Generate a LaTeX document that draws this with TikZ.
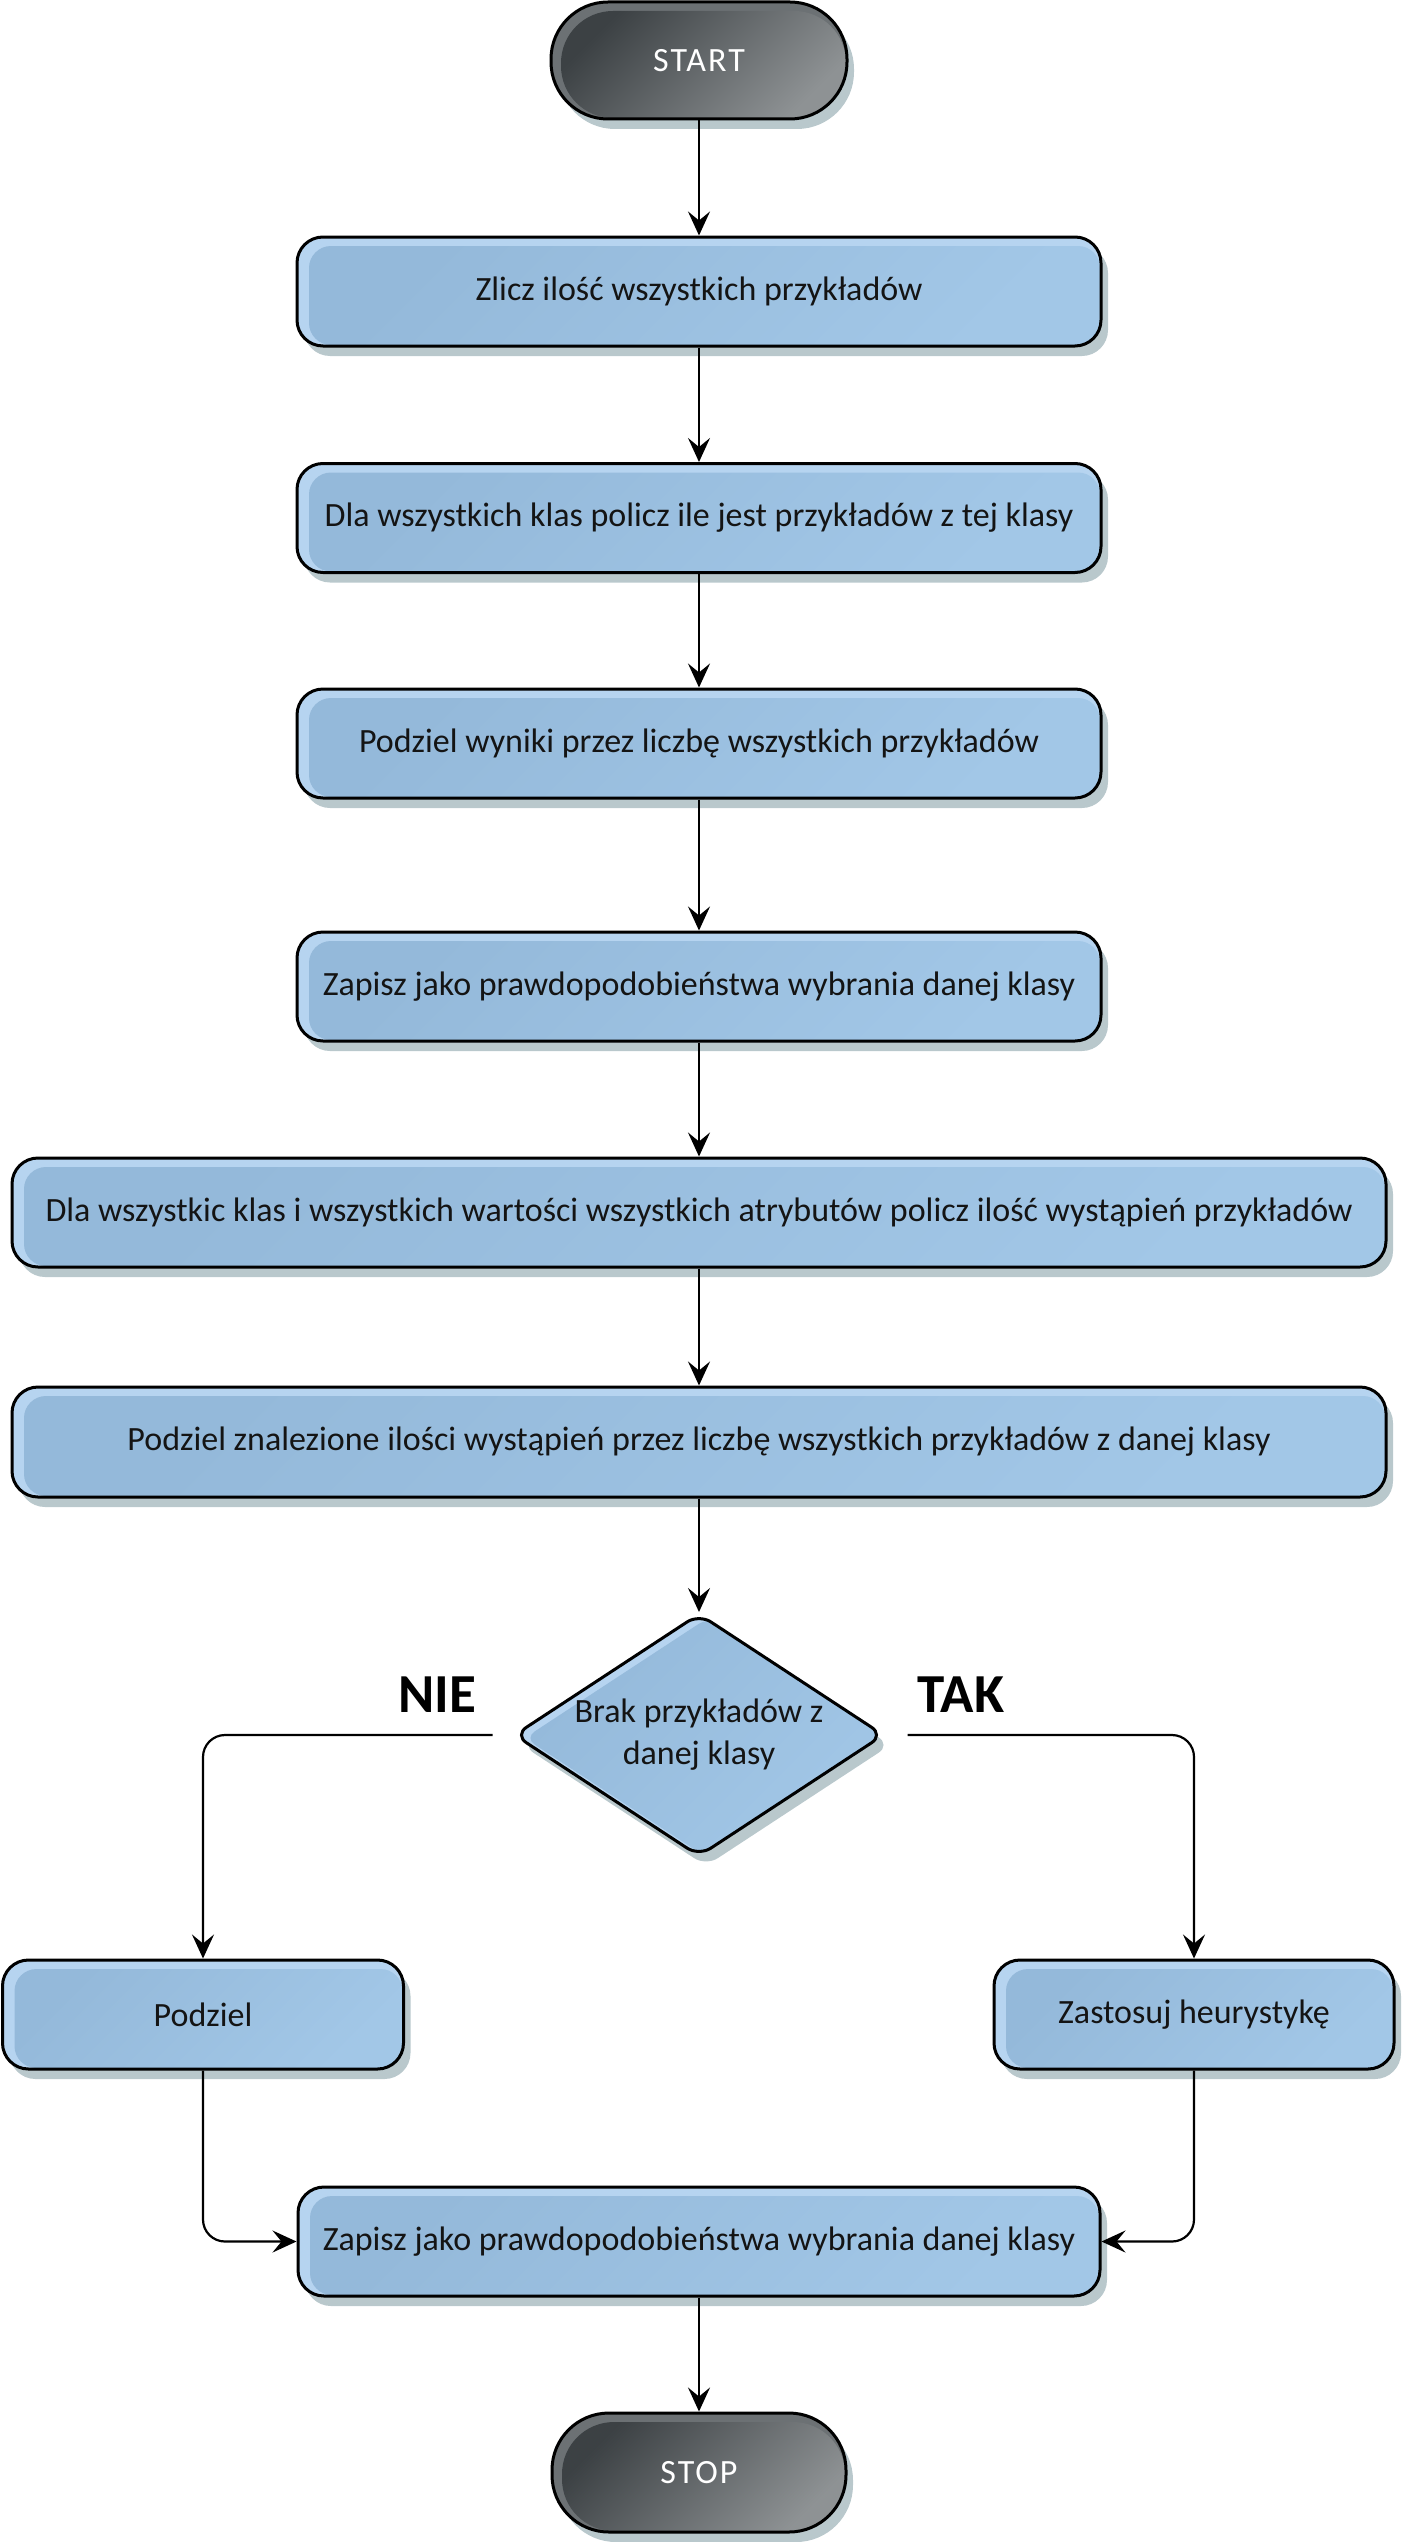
\documentclass[tikz,border=0pt]{standalone}
\usepackage{fontspec}
\setmainfont{Carlito}
\newfontfamily\termfont[LetterSpace=6]{Carlito}
\usetikzlibrary{arrows.meta,shapes.geometric,shadows}
\definecolor{boxA}{HTML}{94B9DA}
\definecolor{boxB}{HTML}{A2C7E7}
\definecolor{boxhl}{HTML}{B6D4F0}
\definecolor{termA}{HTML}{3C4144}
\definecolor{termB}{HTML}{8E9294}
\definecolor{termhl}{HTML}{6C7174}
\definecolor{shadowc}{HTML}{B9C8CC}
\definecolor{txtc}{HTML}{141414}
\begin{document}
\begin{tikzpicture}[x=1pt,y=-1pt,
  txt/.style={font=\fontsize{34}{42}\selectfont, text=txtc},
  shadowed/.style={drop shadow={shadow xshift=7pt, shadow yshift=-10pt, fill=shadowc, opacity=1}},
  proc/.style={draw=black, line width=3pt, rounded corners=26pt, inner sep=0pt, shadowed, txt,
    path picture={
      \fill[boxhl] (path picture bounding box.south west) rectangle (path picture bounding box.north east);
      \shade[top color=boxA, bottom color=boxB, shading angle=45, rounded corners=22pt]
        ([xshift=12pt,yshift=-9pt]path picture bounding box.north west) rectangle
        ([xshift=-1pt,yshift=1pt]path picture bounding box.south east);
    }},
  term/.style={draw=black, line width=3pt, rounded corners=57pt, inner sep=0pt, shadowed,
    font=\termfont\fontsize{34}{42}\selectfont, text=white,
    path picture={
      \fill[termhl] (path picture bounding box.south west) rectangle (path picture bounding box.north east);
      \shade[top color=termA, bottom color=termB, shading angle=45, rounded corners=52pt]
        ([xshift=10pt,yshift=-9pt]path picture bounding box.north west) rectangle
        ([xshift=-1pt,yshift=1pt]path picture bounding box.south east);
    }},
  decision/.style={diamond, draw=black, line width=3pt, rounded corners=14pt, inner sep=0pt,
    minimum width=370pt, minimum height=243pt, shadowed,
    path picture={
      \fill[boxhl] (path picture bounding box.south west) rectangle (path picture bounding box.north east);
      \shade[top color=boxA, bottom color=boxB, shading angle=45, rounded corners=12pt]
        ([xshift=10pt,yshift=-3pt]path picture bounding box.north) --
        ([xshift=10pt,yshift=-3pt]path picture bounding box.east) --
        ([xshift=10pt,yshift=-3pt]path picture bounding box.south) --
        ([xshift=10pt,yshift=-3pt]path picture bounding box.west) -- cycle;
    }},
  branch/.style={font=\fontsize{55}{66}\selectfont\bfseries, text=black},
  conn/.style={line width=2.2pt, draw=black, rounded corners=22pt,
    -{Stealth[length=24pt, width=22pt, inset=9pt]}}
]
\useasboundingbox (0,0) rectangle (1404,2542);

\node[term, minimum width=296pt, minimum height=117pt] (start) at (699,60.5) {START};
\node[proc, minimum width=804pt, minimum height=109pt] (b1) at (699,291.5) {Zlicz ilość wszystkich przykładów};
\node[proc, minimum width=804pt, minimum height=109pt] (b2) at (699,518) {Dla wszystkich klas policz ile jest przykładów z tej klasy};
\node[proc, minimum width=804pt, minimum height=109pt] (b3) at (699,743.5) {Podziel wyniki przez liczbę wszystkich przykładów};
\node[proc, minimum width=804pt, minimum height=109pt] (b4) at (699,986.5) {Zapisz jako prawdopodobieństwa wybrania danej klasy};
\node[proc, minimum width=1374pt, minimum height=109pt] (b5) at (699,1212.5) {Dla wszystkic klas i wszystkich wartości wszystkich atrybutów policz ilość wystąpień przykładów};
\node[proc, minimum width=1374pt, minimum height=110pt] (b6) at (699,1442) {Podziel znalezione ilości wystąpień przez liczbę wszystkich przykładów z danej klasy};
\node[decision, label={[txt, align=center]center:Brak przykładów z\\danej klasy}] (dec) at (699,1735) {};
\node[branch] (nie) at (437,1695) {NIE};
\node[branch] (tak) at (961,1695) {TAK};
\node[proc, minimum width=401pt, minimum height=109pt] (podz) at (203,2014.5) {Podziel};
\node[proc, minimum width=400pt, minimum height=109pt] (zast) at (1194,2014.5) {Zastosuj heurystykę};
\node[proc, minimum width=802pt, minimum height=109pt] (fin) at (699,2241.5) {Zapisz jako prawdopodobieństwa wybrania danej klasy};
\node[term, minimum width=294pt, minimum height=119pt] (stop) at (699,2472.5) {STOP};

\coordinate (nl) at ([xshift=-20pt]dec.west);
\coordinate (nr) at ([xshift=22pt]dec.east);

\draw[conn] (start.south) -- (b1.north);
\draw[conn] (b1.south) -- (b2.north);
\draw[conn] (b2.south) -- (b3.north);
\draw[conn] (b3.south) -- (b4.north);
\draw[conn] (b4.south) -- (b5.north);
\draw[conn] (b5.south) -- (b6.north);
\draw[conn] (b6.south) -- (dec.north);
\draw[conn] (nl) -| (podz.north);
\draw[conn] (nr) -| (zast.north);
\draw[conn] (podz.south) |- (fin.west);
\draw[conn] (zast.south) |- (fin.east);
\draw[conn] (fin.south) -- (stop.north);
\end{tikzpicture}
\end{document}
